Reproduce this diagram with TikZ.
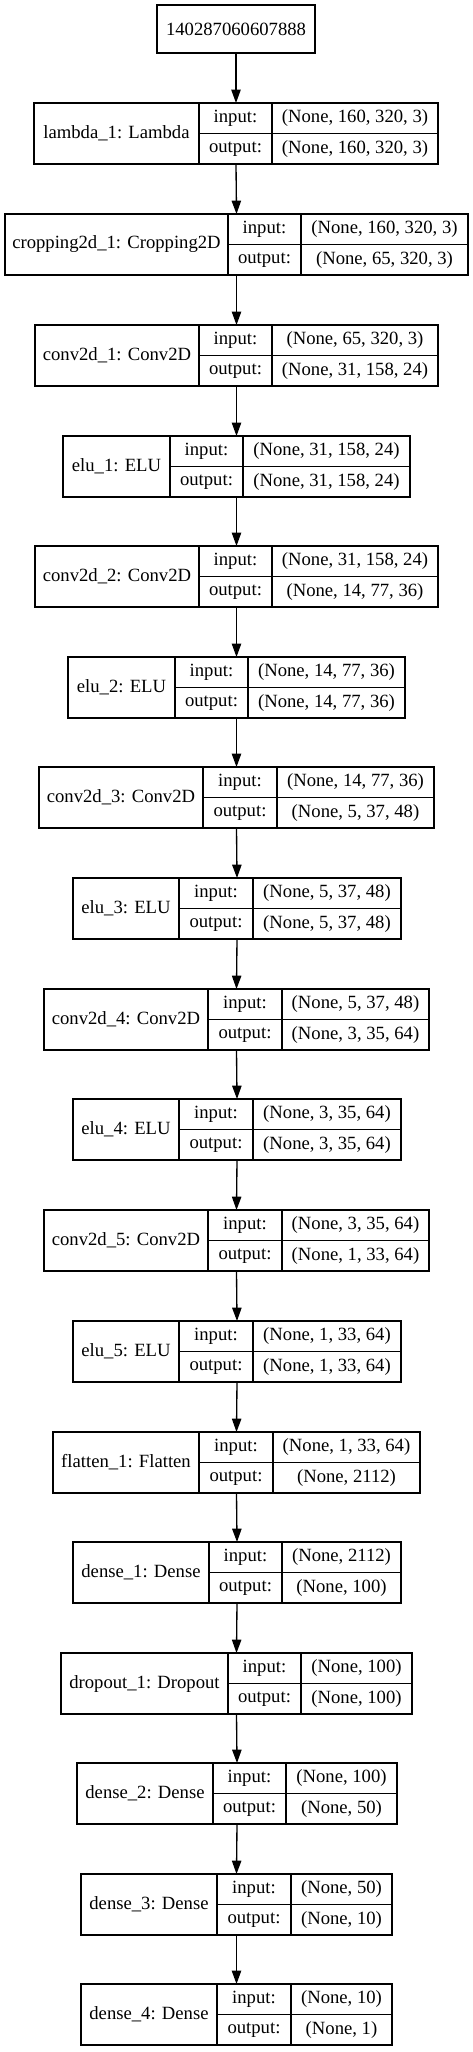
\documentclass[tikz,border=0pt]{standalone}
\usepackage{fontspec}
\setmainfont{Liberation Serif}
\usetikzlibrary{arrows.meta,positioning,fit}

\begin{document}
\begin{tikzpicture}[x=0.75pt,y=-0.75pt,
        cell/.style={draw, line width=1pt, inner sep=0pt, outer sep=0pt,
                font=\fontsize{14pt}{17pt}\selectfont},
        flow/.style={line width=1pt, -{Triangle[length=10pt,width=7pt]}}]
    \useasboundingbox (0,0) rectangle (473,2052);

    \node [cell, minimum width=118.5pt, minimum height=36pt] (L0) at (236,29) {140287060607888};

    % one record per layer: name / left / divider 1 / divider 2 / right / top / input / output
    \foreach \lname/\xl/\xa/\xb/\xr/\yt/\shin/\shout [count=\i] in {
            lambda\_1: Lambda/34/199/272/438/103/{(None, 160, 320, 3)}/{(None, 160, 320, 3)},
            cropping2d\_1: Cropping2D/5/228/301/468/214/{(None, 160, 320, 3)}/{(None, 65, 320, 3)},
            conv2d\_1: Conv2D/35/199/272/438/325/{(None, 65, 320, 3)}/{(None, 31, 158, 24)},
            elu\_1: ELU/63/170/243/410/436/{(None, 31, 158, 24)}/{(None, 31, 158, 24)},
            conv2d\_2: Conv2D/35/199/272/438/546/{(None, 31, 158, 24)}/{(None, 14, 77, 36)},
            elu\_2: ELU/68/175/248/405/657/{(None, 14, 77, 36)}/{(None, 14, 77, 36)},
            conv2d\_3: Conv2D/39/203/277/434/767/{(None, 14, 77, 36)}/{(None, 5, 37, 48)},
            elu\_3: ELU/73/179/253/401/878/{(None, 5, 37, 48)}/{(None, 5, 37, 48)},
            conv2d\_4: Conv2D/44/208/282/429/989/{(None, 5, 37, 48)}/{(None, 3, 35, 64)},
            elu\_4: ELU/73/179/253/401/1099/{(None, 3, 35, 64)}/{(None, 3, 35, 64)},
            conv2d\_5: Conv2D/44/208/282/429/1210/{(None, 3, 35, 64)}/{(None, 1, 33, 64)},
            elu\_5: ELU/73/179/253/401/1321/{(None, 1, 33, 64)}/{(None, 1, 33, 64)},
            flatten\_1: Flatten/53/199/273/420/1432/{(None, 1, 33, 64)}/{(None, 2112)},
            dense\_1: Dense/73/209/282/401/1542/{(None, 2112)}/{(None, 100)},
            dropout\_1: Dropout/61/228/301/412/1653/{(None, 100)}/{(None, 100)},
            dense\_2: Dense/77/213/286/397/1763/{(None, 100)}/{(None, 50)},
            dense\_3: Dense/81/217/291/392/1874/{(None, 50)}/{(None, 10)},
            dense\_4: Dense/81/217/291/392/1984/{(None, 10)}/{(None, 1)}}{
        \pgfmathtruncatemacro\prev{\i-1}
        \node [cell, anchor=north west, minimum width={(\xa-\xl)*0.75pt},
                minimum height=45.75pt] (n\i) at (\xl,\yt) {\lname};
        \node [cell, minimum width={(\xb-\xa)*0.75pt}, minimum height=22.875pt,
                below right=0pt and 0pt of n\i.north east] (in\i) {input:};
        \node [cell, minimum width={(\xb-\xa)*0.75pt}, minimum height=22.875pt,
                below=0pt of in\i] (out\i) {output:};
        \node [cell, minimum width={(\xr-\xb)*0.75pt}, minimum height=22.875pt,
                right=0pt of in\i] (sin\i) {\shin};
        \node [cell, minimum width={(\xr-\xb)*0.75pt}, minimum height=22.875pt,
                right=0pt of out\i] (sout\i) {\shout};
        \node [fit=(n\i)(sout\i), inner sep=0pt, outer sep=0pt] (L\i) {};
        \draw [flow] (L\prev.south) -- (L\i.north);
    }
\end{tikzpicture}
\end{document}
